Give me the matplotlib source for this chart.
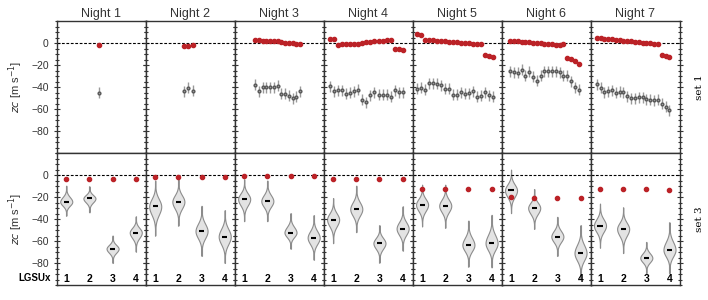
import matplotlib.pyplot as plt
import numpy as np
from matplotlib.ticker import MultipleLocator

plt.rcParams['font.family'] = ['Liberation Sans', 'DejaVu Sans']

nights = ['Night 1', 'Night 2', 'Night 3', 'Night 4', 'Night 5', 'Night 6', 'Night 7']

# set 1: red = corrected zc, gray = raw zc (m/s), one value per exposure
n1_ref = [-2.0]
n1_raw = [-45.0]
n2_ref = [-2.4, -2.4, -1.8]
n2_raw = [-43.8, -40.8, -43.2]
n3_ref = [2.5, 2.3, 2.2, 2.1, 2.0, 1.8, 1.5, 0.5, 0.3, 0.0, -0.3, -0.6, -1.0]
n3_raw = [-38, -44, -40, -40, -40, -40, -39, -46, -46, -48, -50, -49, -44]
n4_ref = [3.7, 3.5, -1.5, -1.3, -1.1, -0.9, -0.7, -0.5, -0.3,
          1.0, 1.3, 1.6, 1.9, 2.2, 2.6, 3.0, -5.5, -5.8, -6.0]
n4_raw = [-39.5, -43.8, -43, -43, -46, -45, -44, -42.5, -51.7, -53.9,
          -47.7, -44.6, -47, -47, -47, -49, -43, -44.6, -44.6]
n5_ref = [8.6, 7.3, 3.1, 2.8, 2.5, 2.2, 1.9, 1.5, 1.2, 0.9, 0.6, 0.3, 0.0,
          -0.3, -0.6, -0.9, -1.1, -10.6, -11.9, -12.8]
n5_raw = [-41.7, -40.8, -42.5, -36.5, -36.5, -37.0, -38.6, -41.7, -41.7, -47.0,
          -47.0, -44.6, -46.0, -45.6, -43.8, -48.7, -47.9, -44.9, -47.3, -48.7]
n6_ref = [1.8, 1.7, 1.4, 1.1, 0.8, 0.5, 0.3, 0.0, -0.3, -0.6, -0.9, -1.2,
          -1.5, -1.8, -1.3, -13.4, -14.9, -16.1, -18.8]
n6_raw = [-25.8, -26.4, -27.0, -24.3, -29.7, -26.0, -30.6, -34.2, -29.7, -25.8,
          -25.8, -25.8, -25.8, -26.5, -29.7, -29.7, -34.8, -40.3, -42.5]
n7_ref = [4.3, 4.6, 4.0, 3.6, 3.3, 3.0, 2.6, 2.2, 1.8, 1.4, 1.0, 0.7, 0.3,
          0.0, -0.4, -0.8, -1.2, -11.2, -12.1, -13.0]
n7_raw = [-37.7, -40.8, -44.7, -43.8, -42.9, -45.3, -44.5, -44.7, -48.3, -50.0,
          -50.0, -49.5, -49.2, -51.2, -51.5, -52.0, -51.5, -55.2, -58.0, -61.3]
raw_err = 5.0

# set 3: per LGSU (1-4) median / min / max of raw zc and corrected value
lgsu = [1, 2, 3, 4]
s3_med = [[-24.3, -21.3, -67.0, -52.3],
          [-28.6, -24.3, -51.0, -56.0],
          [-21.9, -23.7, -52.3, -57.0],
          [-40.5, -31.0, -62.0, -48.7],
          [-27.0, -28.0, -63.6, -62.0],
          [-14.0, -30.0, -56.0, -71.0],
          [-46.0, -49.0, -75.4, -68.0]]
s3_lo = [[-37.0, -34.0, -80.0, -69.6],
         [-55.0, -46.0, -73.6, -80.0],
         [-42.0, -42.0, -67.0, -77.0],
         [-62.0, -52.0, -79.7, -68.7],
         [-46.8, -48.0, -83.3, -84.0],
         [-34.7, -49.0, -73.6, -94.0],
         [-66.0, -71.0, -89.4, -89.4]]
s3_hi = [[-9.7, -10.3, -55.0, -37.7],
         [-5.0, -4.0, -28.0, -32.0],
         [-4.0, -5.0, -34.7, -36.5],
         [-21.0, -9.7, -45.6, -28.6],
         [-8.8, -8.8, -41.4, -36.2],
         [4.9, -12.8, -38.0, -45.6],
         [-26.0, -29.5, -60.8, -43.0]]
s3_ref = [[-3.3, -3.3, -3.3, -3.3],
          [-1.5, -1.5, -1.5, -1.5],
          [-1.2, -1.2, -1.2, -1.2],
          [-4.0, -4.0, -4.0, -4.0],
          [-12.5, -12.5, -12.5, -12.8],
          [-20.4, -20.7, -21.0, -21.3],
          [-13.0, -13.0, -13.0, -13.2]]

set1_ref = [n1_ref, n2_ref, n3_ref, n4_ref, n5_ref, n6_ref, n7_ref]
set1_raw = [n1_raw, n2_raw, n3_raw, n4_raw, n5_raw, n6_raw, n7_raw]

# x-range of each top panel in exposure-index units
top_xlim = [(-10.3, 11.7), (-9.1, 12.1), (-5.4, 18.3), (-1.55, 20.5),
            (-1.0, 21.1), (-2.2, 21.2), (-1.56, 21.7)]

RED = '#bb2227'
TXT = '0.2'


def violin_stats(med, lo, hi):
    coords = np.linspace(lo, hi, 150)
    s = np.where(coords >= med, (hi - med) / 3.5, (med - lo) / 3.5)
    vals = np.exp(-0.5 * ((coords - med) / s) ** 2)
    return dict(coords=coords, vals=vals, mean=med, median=med, min=lo, max=hi)


def style(ax):
    ax.set_ylim(-100, 20)
    ax.set_yticks([-80, -60, -40, -20, 0])
    ax.yaxis.set_minor_locator(MultipleLocator(5))
    ax.tick_params(axis='y', which='both', direction='inout', left=True,
                   right=True, width=0.8, colors=TXT, labelsize=7.5)
    ax.tick_params(axis='y', which='major', length=5)
    ax.tick_params(axis='y', which='minor', length=3)
    for sp in ax.spines.values():
        sp.set_color('0.2')
        sp.set_linewidth(1.0)
    ax.axhline(0, color='k', ls='--', lw=0.8, dashes=(2.5, 1.5))


fig, axes = plt.subplots(2, 7, figsize=(7.08, 3.0), dpi=100)
fig.subplots_adjust(left=0.0805, right=0.960, top=0.93, bottom=0.05,
                    wspace=0, hspace=0)

for i in range(7):
    ax = axes[0, i]
    style(ax)
    x = np.arange(len(set1_ref[i]))
    ax.errorbar(x, set1_raw[i], yerr=raw_err, fmt='o', ms=2, color='0.6',
                mec='0.35', ecolor='0.6', elinewidth=1.0, capsize=0)
    ax.plot(x, set1_ref[i], 'o', ms=3.0, color=RED, mec=RED)
    ax.set_xlim(*top_xlim[i])
    ax.set_xticks([])
    ax.set_title(nights[i], fontsize=9, color=TXT, pad=3)

    ax = axes[1, i]
    style(ax)
    stats = [violin_stats(m, l, h) for m, l, h in zip(s3_med[i], s3_lo[i], s3_hi[i])]
    parts = ax.violin(stats, positions=lgsu, widths=0.52, showmeans=False,
                      showextrema=False, showmedians=False)
    for b in parts['bodies']:
        b.set_facecolor('#e3e3e3')
        b.set_edgecolor('0.55')
        b.set_linewidth(0.8)
        b.set_alpha(1)
    ax.vlines(lgsu, s3_lo[i], s3_hi[i], color='0.55', lw=0.8, zorder=0.5)
    ax.hlines(s3_med[i], np.array(lgsu) - 0.11, np.array(lgsu) + 0.11,
              color='k', lw=1.5, zorder=3)
    ax.plot(lgsu, s3_ref[i], 'o', ms=3.0, color=RED, mec=RED, zorder=4)
    ax.set_xlim(0.6, 4.44)
    ax.set_xticks(lgsu)
    ax.set_xticklabels([str(v) for v in lgsu], fontweight='bold', fontsize=7.5)
    ax.tick_params(axis='x', length=0, pad=-8, colors='k')

    if i > 0:
        axes[0, i].tick_params(axis='y', labelleft=False)
        axes[1, i].tick_params(axis='y', labelleft=False)

for ax in axes[:, 0]:
    ax.set_ylabel(r'$zc$ [m s$^{-1}$]', fontsize=8, color=TXT)

fig.text(0.072, 0.072, 'LGSUx', ha='right', va='center', fontsize=7,
         fontweight='bold')
fig.text(0.988, 0.71, 'set 1', rotation=90, ha='center', va='center',
         fontsize=7.5, family='DejaVu Serif')
fig.text(0.988, 0.268, 'set 3', rotation=90, ha='center', va='center',
         fontsize=7.5, family='DejaVu Serif')

fig.savefig('out.png', dpi=100)
